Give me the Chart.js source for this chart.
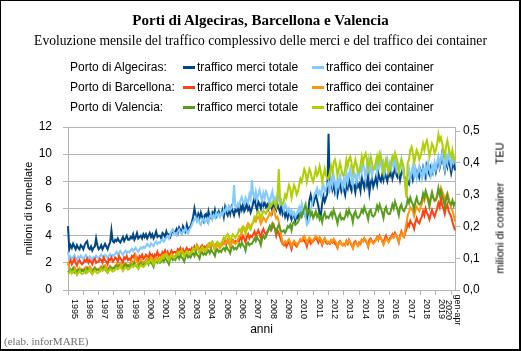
<!DOCTYPE html>
<html><head><meta charset="utf-8">
<script src="https://cdn.jsdelivr.net/npm/chart.js@4.4.1/dist/chart.umd.min.js"></script>
<style>
html,body{margin:0;padding:0;background:#fff;}
#wrap{position:relative;width:521px;height:351px;overflow:hidden;background:#fff;}
#cw{position:absolute;left:0;top:0;width:521px;height:351px;}
#frame{position:absolute;left:0;top:0;width:521px;height:351px;box-sizing:border-box;border-style:solid;border-color:#000;border-width:1px 2px 2px 1px;pointer-events:none;}
.t{position:absolute;white-space:pre;color:#000;}
#title{left:0;width:521px;text-align:center;top:10px;font:bold 15px/20px "Liberation Serif","Times New Roman",serif;}
#sub{left:0;width:521px;text-align:center;top:31px;font:13.6px/20px "Liberation Serif","Times New Roman",serif;}
.leg{font:12px/20px "Liberation Sans",Arial,sans-serif;}
.sw{position:absolute;width:12px;height:3px;}
#rtitle{left:500px;top:208px;font:11px/13px "Liberation Sans",Arial,sans-serif;transform:translate(-50%,-50%) rotate(-90deg);}
#note{left:4px;top:335px;font:11px/13px "Liberation Serif","Times New Roman",serif;color:#707070;}
</style>
</head>
<body>
<div id="wrap">
  <div id="cw"><canvas id="c"></canvas></div>
  <div class="t" id="title"></div>
  <div class="t" id="sub"></div>
  <div id="legend"></div>
  <div class="t" id="rtitle"></div>
  <div class="t" id="note"></div>
  <div id="frame"></div>
</div>
<script>
// ---------- texts ----------
const titleText = 'Porti di Algeciras, Barcellona e Valencia';
const subtitleText = 'Evoluzione mensile del traffico complessivo delle merci e del traffico dei container';
const portNames = ['Porto di Algeciras:', 'Porto di Barcellona:', 'Porto di Valencia:'];
const seriesKinds = ['traffico merci totale', 'traffico dei container'];
const leftAxisTitle = 'milioni di tonnellate';
const rightAxisTitle = 'milioni di container      TEU';
const xAxisTitle = 'anni';
const noteText = '(elab. inforMARE)';
const yearTicks = ['1995','1996','1997','1998','1999','2000','2001','2002','2003','2004','2005','2006','2007',
  '2008','2009','2010','2011','2012','2013','2014','2015','2016','2017','2018','2019'];
const lastTick = ['2020','gen-apr'];
const monthNames = ['gen','feb','mar','apr','mag','giu','lug','ago','set','ott','nov','dic'];

// ---------- categories (monthly, gen 1995 - apr 2020) ----------
const categories = [];
for (let y = 1995; y <= 2020; y++) {
  for (let m = 0; m < 12; m++) {
    if (y === 2020 && m > 3) break;
    categories.push(monthNames[m] + ' ' + y);
  }
}

// ---------- series values ----------
// Algeciras: traffico merci totale (milioni di tonnellate)
const algeciraMerci = [
4.7,3.0,3.3,3.1,3.4,3.2,3.0,3.3,3.1,3.0,3.3,3.2,
3.0,3.3,3.5,3.6,3.1,3.0,3.2,2.9,3.1,3.2,3.8,3.3,
3.0,3.1,3.3,3.0,3.2,3.4,3.2,3.0,3.3,3.5,4.4,3.6,
3.5,3.7,3.6,3.8,3.6,3.5,3.7,3.9,3.6,3.8,4.0,3.7,
3.7,3.9,3.8,4.1,3.7,3.9,4.2,3.8,3.9,4.0,3.8,4.1,
3.9,4.1,3.8,4.0,4.2,3.9,4.1,3.8,4.0,4.3,3.9,4.0,
4.0,3.8,4.2,4.1,3.9,4.3,4.0,4.1,3.9,4.2,4.4,4.2,
4.3,4.5,4.2,4.6,4.4,4.2,4.7,4.5,4.3,4.8,4.4,4.6,
4.7,5.0,5.4,6.0,5.5,5.2,5.6,5.3,5.7,5.4,5.1,5.5,
5.6,5.2,5.8,5.4,5.3,5.7,5.5,5.9,5.4,5.6,5.8,5.5,
5.6,5.9,5.4,6.1,5.7,5.5,6.0,5.6,6.1,5.8,5.5,5.9,
5.8,6.0,5.6,6.2,5.9,6.3,5.8,6.0,6.4,5.9,6.1,5.7,
6.0,6.4,6.8,6.2,5.9,6.5,6.3,6.0,6.6,6.2,6.4,6.1,
6.3,6.0,6.5,6.2,5.8,6.4,6.1,5.9,6.3,6.0,5.7,6.2,
5.6,5.9,5.4,5.7,5.3,5.8,5.5,5.2,5.6,5.4,5.1,5.5,
5.3,5.6,5.9,5.5,5.8,5.6,5.4,5.2,5.7,6.6,7.0,6.5,
6.3,6.7,7.0,6.6,6.2,5.6,5.5,6.4,6.9,6.5,6.8,7.1,
11.5,7.6,8.0,7.4,7.8,7.2,7.6,7.0,7.5,7.9,7.3,7.7,
7.4,7.0,7.8,7.5,8.2,7.6,7.3,7.9,7.7,7.2,8.0,7.6,
7.8,7.3,8.3,7.9,7.5,8.1,7.7,8.4,7.2,7.9,8.2,7.6,
7.9,8.3,7.8,8.6,8.2,8.0,8.5,8.1,8.7,8.3,8.0,8.6,
8.4,8.8,8.2,8.6,9.0,8.5,8.3,8.7,8.1,8.6,8.9,8.4,
8.2,7.6,8.0,7.8,8.3,8.6,8.1,8.5,8.9,8.4,8.7,8.3,
8.8,8.4,9.0,8.6,8.3,9.1,8.7,8.5,9.0,8.6,8.9,9.2,
8.7,9.2,9.6,9.0,9.4,10.1,9.3,8.8,9.5,9.1,9.8,9.2,
8.6,9.1,9.4,8.8];

// Algeciras: traffico dei container (milioni di TEU)
const algecirasTeu = [
0.12,0.10,0.105,0.098,0.103,0.11,0.10,0.095,0.105,0.10,0.108,0.102,
0.098,0.104,0.11,0.10,0.097,0.106,0.102,0.095,0.104,0.10,0.108,0.103,
0.10,0.106,0.112,0.104,0.101,0.11,0.107,0.10,0.108,0.113,0.105,0.11,
0.108,0.114,0.12,0.112,0.117,0.123,0.115,0.11,0.118,0.124,0.116,0.121,
0.118,0.124,0.13,0.122,0.127,0.133,0.125,0.12,0.128,0.134,0.13,0.136,
0.132,0.138,0.145,0.14,0.136,0.147,0.142,0.138,0.148,0.153,0.145,0.15,
0.148,0.155,0.16,0.152,0.158,0.165,0.17,0.162,0.175,0.185,0.19,0.18,
0.178,0.172,0.185,0.19,0.18,0.176,0.188,0.182,0.195,0.186,0.178,0.19,
0.195,0.205,0.215,0.22,0.228,0.215,0.225,0.21,0.205,0.218,0.225,0.212,
0.218,0.225,0.212,0.23,0.238,0.222,0.235,0.228,0.242,0.232,0.24,0.23,
0.242,0.236,0.252,0.246,0.26,0.25,0.262,0.252,0.258,0.268,0.33,0.262,
0.26,0.272,0.264,0.282,0.292,0.278,0.27,0.29,0.28,0.272,0.30,0.286,
0.346,0.30,0.29,0.31,0.285,0.30,0.315,0.295,0.28,0.305,0.29,0.31,
0.30,0.285,0.27,0.295,0.31,0.28,0.29,0.275,0.30,0.285,0.27,0.28,
0.265,0.25,0.27,0.26,0.245,0.255,0.24,0.25,0.235,0.245,0.23,0.24,
0.25,0.26,0.24,0.27,0.25,0.24,0.23,0.205,0.21,0.22,0.25,0.27,
0.29,0.30,0.31,0.32,0.30,0.31,0.295,0.32,0.33,0.31,0.32,0.33,
0.34,0.32,0.35,0.33,0.36,0.34,0.31,0.35,0.33,0.36,0.34,0.32,
0.35,0.33,0.37,0.34,0.36,0.38,0.35,0.33,0.37,0.36,0.34,0.38,
0.36,0.39,0.37,0.40,0.38,0.35,0.39,0.41,0.37,0.39,0.36,0.38,
0.38,0.40,0.37,0.41,0.39,0.42,0.38,0.40,0.37,0.39,0.41,0.38,
0.40,0.38,0.41,0.39,0.42,0.38,0.40,0.37,0.39,0.41,0.38,0.36,
0.34,0.30,0.36,0.38,0.35,0.37,0.39,0.36,0.38,0.35,0.37,0.39,
0.37,0.35,0.38,0.36,0.39,0.37,0.40,0.38,0.36,0.39,0.37,0.40,
0.38,0.40,0.42,0.39,0.41,0.43,0.40,0.38,0.42,0.40,0.43,0.41,
0.39,0.42,0.40,0.41];

// Barcellona: traffico merci totale
const barcellonaMerci = [
1.8,2.0,2.2,1.9,2.1,2.3,2.0,1.8,2.1,2.2,2.0,1.9,
2.0,2.2,2.1,2.3,2.0,2.2,2.1,1.9,2.2,2.3,2.0,2.1,
2.1,2.3,2.2,2.0,2.4,2.2,2.1,1.9,2.3,2.2,2.4,2.1,
2.2,2.4,2.3,2.1,2.5,2.3,2.2,2.0,2.4,2.3,2.5,2.2,
2.3,2.2,2.5,2.4,2.6,2.3,2.4,2.1,2.5,2.4,2.6,2.3,
2.4,2.6,2.5,2.3,2.7,2.5,2.6,2.3,2.6,2.5,2.8,2.5,
2.6,2.5,2.8,2.7,2.9,2.6,2.8,2.5,2.7,2.9,2.7,2.8,
2.8,2.7,3.0,2.9,3.1,2.8,3.0,2.7,2.9,3.1,2.9,3.0,
2.9,3.1,3.0,3.2,2.9,3.3,3.1,2.8,3.2,3.3,3.1,3.2,
3.1,3.3,3.2,3.4,3.2,3.5,3.3,3.0,3.4,3.5,3.3,3.4,
3.3,3.5,3.4,3.6,3.4,3.7,3.5,3.2,3.6,3.7,3.5,3.6,
3.5,3.7,3.6,3.9,3.7,4.0,3.8,3.5,3.9,4.1,3.8,4.0,
3.9,4.1,4.3,4.0,4.2,4.4,4.1,3.8,4.3,4.5,4.2,4.1,
4.3,4.5,4.7,4.4,4.6,4.8,4.5,4.0,4.4,4.2,3.9,3.6,
3.4,3.3,3.5,3.2,3.4,3.6,3.3,3.0,3.4,3.5,3.3,3.2,
3.4,3.5,3.7,3.6,3.8,3.6,3.5,3.2,3.6,3.7,3.4,3.5,
3.6,3.7,3.9,3.7,3.5,3.8,3.6,3.3,3.6,3.8,3.5,3.4,
3.5,3.4,3.6,3.5,3.7,3.4,3.3,3.1,3.5,3.6,3.4,3.3,
3.4,3.3,3.6,3.4,3.7,3.5,3.3,3.1,3.5,3.6,3.4,3.3,
3.5,3.4,3.7,3.6,3.8,3.6,3.5,3.2,3.7,3.8,3.6,3.5,
3.6,3.7,3.9,3.7,4.0,3.8,3.6,3.4,3.8,4.0,3.7,3.6,
3.8,3.9,4.1,3.9,4.2,4.0,3.8,3.5,4.0,4.3,4.0,3.9,
4.2,4.5,4.9,4.7,5.1,4.9,4.8,4.5,5.0,5.3,5.0,4.9,
5.2,5.4,5.8,5.5,6.0,5.7,5.5,5.2,5.6,5.9,5.6,5.4,
5.7,6.0,6.4,6.1,6.8,6.2,6.0,5.6,6.1,6.3,5.8,5.6,
5.4,5.0,4.7,4.4];

// Barcellona: traffico dei container
const barcellonaTeu = [
0.088,0.07,0.065,0.062,0.068,0.072,0.066,0.058,0.064,0.07,0.066,0.061,
0.063,0.068,0.072,0.065,0.07,0.074,0.068,0.06,0.066,0.072,0.068,0.064,
0.066,0.07,0.075,0.07,0.073,0.078,0.072,0.064,0.07,0.076,0.072,0.068,
0.072,0.076,0.082,0.078,0.08,0.085,0.079,0.07,0.078,0.084,0.08,0.076,
0.08,0.085,0.092,0.088,0.09,0.108,0.09,0.08,0.088,0.095,0.09,0.086,
0.09,0.095,0.10,0.096,0.098,0.104,0.099,0.088,0.097,0.103,0.10,0.095,
0.10,0.104,0.11,0.106,0.112,0.116,0.108,0.098,0.106,0.113,0.108,0.104,
0.108,0.112,0.118,0.114,0.12,0.124,0.116,0.105,0.115,0.122,0.117,0.112,
0.118,0.122,0.128,0.125,0.13,0.135,0.127,0.115,0.126,0.133,0.128,0.122,
0.125,0.13,0.138,0.134,0.14,0.145,0.136,0.124,0.134,0.142,0.137,0.132,
0.138,0.142,0.15,0.145,0.152,0.158,0.148,0.135,0.146,0.155,0.15,0.145,
0.15,0.158,0.168,0.172,0.18,0.19,0.195,0.185,0.20,0.21,0.205,0.198,
0.205,0.212,0.22,0.215,0.225,0.23,0.222,0.208,0.218,0.228,0.222,0.215,
0.225,0.232,0.242,0.235,0.248,0.255,0.24,0.225,0.23,0.215,0.195,0.17,
0.15,0.145,0.152,0.148,0.155,0.16,0.15,0.138,0.148,0.155,0.15,0.142,
0.148,0.152,0.16,0.156,0.165,0.17,0.16,0.148,0.158,0.165,0.16,0.152,
0.158,0.162,0.17,0.165,0.158,0.166,0.16,0.145,0.155,0.162,0.156,0.148,
0.152,0.148,0.158,0.152,0.16,0.155,0.148,0.135,0.145,0.152,0.146,0.14,
0.145,0.14,0.152,0.148,0.156,0.15,0.144,0.132,0.142,0.15,0.145,0.138,
0.145,0.15,0.158,0.153,0.162,0.158,0.15,0.138,0.148,0.158,0.152,0.146,
0.15,0.156,0.165,0.16,0.168,0.163,0.155,0.142,0.152,0.162,0.158,0.15,
0.158,0.162,0.17,0.166,0.175,0.17,0.165,0.152,0.165,0.178,0.172,0.168,
0.19,0.21,0.235,0.245,0.26,0.255,0.248,0.232,0.25,0.262,0.255,0.248,
0.26,0.27,0.29,0.28,0.30,0.292,0.28,0.262,0.285,0.30,0.29,0.28,
0.285,0.298,0.315,0.305,0.322,0.31,0.30,0.28,0.295,0.305,0.29,0.275,
0.26,0.25,0.235,0.215];

// Valencia: traffico merci totale
const valenciaMerci = [
1.4,1.3,1.5,1.4,1.6,1.3,1.4,1.2,1.5,1.4,1.3,1.5,
1.4,1.5,1.3,1.6,1.4,1.5,1.3,1.2,1.5,1.6,1.4,1.5,
1.5,1.4,1.6,1.5,1.7,1.5,1.4,1.3,1.6,1.7,1.5,1.6,
1.6,1.7,1.8,1.6,1.8,1.7,1.6,1.5,1.8,1.9,1.7,1.8,
1.7,1.8,1.9,1.8,2.0,1.8,1.7,1.6,1.9,2.0,1.8,1.9,
1.9,2.0,2.1,1.9,2.2,2.0,1.9,1.7,2.1,2.2,2.0,2.1,
2.0,2.1,2.3,2.1,2.4,2.2,2.1,1.9,2.3,2.4,2.2,2.3,
2.2,2.4,2.5,2.3,2.6,2.4,2.3,2.1,2.5,2.6,2.4,2.5,
2.4,2.6,2.7,2.5,2.8,2.6,2.5,2.3,2.7,2.8,2.6,2.7,
2.6,2.8,2.9,2.7,3.0,2.8,2.7,2.5,2.9,3.0,2.8,2.9,
2.8,3.0,3.1,2.9,3.2,3.0,2.9,2.7,3.1,3.2,3.0,3.1,
3.0,3.2,3.4,3.2,3.5,3.3,3.2,2.9,3.4,3.5,3.3,3.4,
3.4,3.6,3.8,3.6,3.9,3.7,3.6,3.3,3.8,4.0,3.8,3.9,
4.2,4.4,4.7,4.5,4.9,4.7,4.5,4.2,4.6,4.8,4.5,4.3,
4.3,4.4,4.2,4.4,4.7,4.6,4.8,4.4,4.9,5.0,4.8,4.9,
5.0,5.2,5.6,5.4,5.7,6.0,6.3,5.6,5.8,5.9,5.5,5.7,
5.3,5.5,5.8,5.4,5.6,5.2,5.4,5.0,5.5,5.7,5.3,5.4,
5.3,5.5,5.7,5.4,5.9,5.6,5.3,4.9,5.4,5.6,5.2,5.3,
5.2,5.4,5.8,5.5,5.9,5.6,5.5,5.0,5.6,5.8,5.4,5.3,
5.4,5.6,5.9,5.7,6.1,5.8,5.6,5.2,5.8,5.9,5.5,5.4,
5.5,5.8,6.2,5.9,6.3,6.0,5.7,5.3,5.9,6.1,5.7,5.6,
5.6,5.9,6.3,6.0,6.5,6.2,5.9,5.5,6.1,6.3,5.9,5.8,
6.0,6.2,6.7,6.4,6.8,6.5,6.3,5.9,6.5,6.8,6.4,6.3,
6.4,6.6,7.1,6.8,7.3,7.0,6.7,6.2,6.8,7.2,6.8,6.6,
6.6,6.9,7.5,7.0,7.3,6.9,6.6,6.1,6.7,7.0,6.5,6.4,
6.3,6.6,6.2,6.5];

// Valencia: traffico dei container
const valenciaTeu = [
0.05,0.055,0.06,0.052,0.058,0.062,0.056,0.048,0.054,0.06,0.055,0.05,
0.052,0.056,0.062,0.055,0.06,0.064,0.058,0.05,0.056,0.062,0.057,0.053,
0.056,0.06,0.066,0.06,0.064,0.068,0.062,0.054,0.06,0.066,0.062,0.058,
0.06,0.064,0.07,0.066,0.07,0.074,0.068,0.06,0.066,0.072,0.068,0.064,
0.066,0.07,0.077,0.072,0.078,0.08,0.075,0.066,0.072,0.08,0.076,0.072,
0.076,0.082,0.09,0.085,0.092,0.096,0.09,0.08,0.088,0.096,0.092,0.088,
0.09,0.096,0.104,0.10,0.108,0.112,0.105,0.094,0.102,0.11,0.106,0.10,
0.104,0.11,0.118,0.112,0.12,0.125,0.118,0.105,0.115,0.122,0.118,0.112,
0.115,0.12,0.13,0.125,0.133,0.138,0.13,0.118,0.128,0.136,0.132,0.126,
0.13,0.136,0.145,0.14,0.148,0.152,0.145,0.132,0.142,0.15,0.146,0.14,
0.148,0.155,0.165,0.16,0.17,0.176,0.168,0.152,0.165,0.175,0.17,0.164,
0.17,0.178,0.19,0.185,0.195,0.20,0.192,0.176,0.19,0.20,0.196,0.19,
0.205,0.215,0.23,0.225,0.24,0.248,0.24,0.225,0.238,0.25,0.245,0.24,
0.25,0.258,0.27,0.265,0.275,0.28,0.27,0.26,0.29,0.38,0.29,0.27,
0.27,0.28,0.30,0.29,0.31,0.33,0.32,0.29,0.31,0.33,0.32,0.30,
0.31,0.33,0.35,0.34,0.36,0.38,0.37,0.34,0.36,0.38,0.37,0.35,
0.34,0.36,0.38,0.36,0.37,0.39,0.37,0.34,0.36,0.38,0.36,0.35,
0.35,0.37,0.39,0.37,0.40,0.41,0.39,0.36,0.38,0.40,0.38,0.36,
0.36,0.38,0.41,0.39,0.41,0.42,0.40,0.37,0.39,0.41,0.39,0.37,
0.37,0.39,0.42,0.40,0.42,0.43,0.41,0.38,0.40,0.42,0.40,0.38,
0.38,0.40,0.42,0.40,0.43,0.42,0.40,0.37,0.39,0.41,0.39,0.37,
0.38,0.40,0.42,0.41,0.43,0.42,0.40,0.37,0.39,0.41,0.40,0.38,
0.33,0.29,0.40,0.41,0.44,0.45,0.43,0.40,0.42,0.44,0.43,0.41,
0.42,0.44,0.46,0.44,0.46,0.47,0.45,0.42,0.44,0.46,0.45,0.43,
0.44,0.46,0.49,0.47,0.48,0.46,0.44,0.42,0.45,0.47,0.45,0.43,
0.42,0.44,0.41,0.42];

const seriesColors = ['#004586','#83caff','#ff420e','#ff950e','#579d1c','#aecf00'];
const seriesData = [algeciraMerci, algecirasTeu, barcellonaMerci, barcellonaTeu, valenciaMerci, valenciaTeu];
const seriesAxis = ['y','y1','y','y1','y','y1'];

// ---------- HTML texts ----------
document.getElementById('title').textContent = titleText;
document.getElementById('sub').textContent = subtitleText;
document.getElementById('rtitle').textContent = rightAxisTitle;
document.getElementById('note').textContent = noteText;
const legendEl = document.getElementById('legend');
portNames.forEach((p, r) => {
  const top = 57 + r * 20;
  const lab = document.createElement('div');
  lab.className = 't leg'; lab.style.left = '70px'; lab.style.top = top + 'px'; lab.textContent = p;
  legendEl.appendChild(lab);
  seriesKinds.forEach((k, c) => {
    const sx = c === 0 ? 183 : 312;
    const sw = document.createElement('div');
    sw.className = 'sw'; sw.style.left = sx + 'px'; sw.style.top = (top + 9) + 'px';
    sw.style.background = seriesColors[r * 2 + c];
    legendEl.appendChild(sw);
    const tx = document.createElement('div');
    tx.className = 't leg'; tx.style.left = (sx + 14) + 'px'; tx.style.top = top + 'px'; tx.textContent = k;
    legendEl.appendChild(tx);
  });
});

// ---------- x labels plugin (rotated, reading downward) ----------
const xLabelPlugin = {
  id: 'xLabels',
  afterDraw(chart) {
    const xs = chart.scales.x;
    const ctx = chart.ctx;
    ctx.save();
    ctx.fillStyle = '#000';
    ctx.font = '9px "Liberation Sans", Arial, sans-serif';
    ctx.textBaseline = 'middle';
    yearTicks.forEach((lab, k) => {
      const x = xs.getPixelForValue(12 * k + 4.7);
      ctx.save();
      ctx.translate(x, xs.top + 9);
      ctx.rotate(Math.PI / 2);
      ctx.textAlign = 'left';
      ctx.fillText(lab, 0, 0);
      ctx.restore();
    });
    const xc = xs.getPixelForValue(301.5);
    [[lastTick[0], -4.5], [lastTick[1], 4.5]].forEach(([lab, dx]) => {
      ctx.save();
      ctx.translate(xc + dx, xs.top + 20);
      ctx.rotate(Math.PI / 2);
      ctx.textAlign = 'center';
      ctx.fillText(lab, 0, 0);
      ctx.restore();
    });
    ctx.restore();
  }
};

const gridGray = '#b3b3b3';
const datasets = seriesData.map((d, i) => ({
  label: portNames[Math.floor(i / 2)] + ' ' + seriesKinds[i % 2],
  data: d,
  yAxisID: seriesAxis[i],
  borderColor: seriesColors[i],
  backgroundColor: seriesColors[i],
  borderWidth: 2,
  pointRadius: 0,
  tension: 0,
  fill: false,
  order: 6 - i
}));

new Chart(document.getElementById('c'), {
  type: 'line',
  data: { labels: categories, datasets },
  options: {
    responsive: true,
    maintainAspectRatio: false,
    animation: false,
    devicePixelRatio: 1,
    layout: { padding: { top: 127, left: 0, right: 0, bottom: 0 } },
    plugins: { legend: { display: false }, tooltip: { enabled: false }, title: { display: false } },
    scales: {
      x: {
        type: 'category',
        offset: false,
        grid: {
          drawOnChartArea: false, drawTicks: true, tickLength: 5,
          color: (c) => (c.index % 12 === 0 ? gridGray : 'rgba(0,0,0,0)'),
          tickColor: (c) => (c.index % 12 === 0 ? gridGray : 'rgba(0,0,0,0)')
        },
        border: { color: gridGray },
        ticks: { autoSkip: false, maxRotation: 0, minRotation: 0, callback: () => '', font: { size: 1 } },
        title: { display: true, text: xAxisTitle, color: '#000',
          font: { family: '"Liberation Sans", Arial, sans-serif', size: 12 }, padding: { top: 0, bottom: 14 } },
        afterFit: (s) => { s.height = 61; }
      },
      y: {
        position: 'left',
        min: 0, max: 12,
        ticks: { stepSize: 2, color: '#000', font: { family: '"Liberation Sans", Arial, sans-serif', size: 12 }, padding: 11 },
        grid: { color: gridGray, tickLength: 5 },
        border: { color: gridGray },
        title: { display: true, text: leftAxisTitle, color: '#000',
          font: { family: '"Liberation Sans", Arial, sans-serif', size: 11 }, padding: { top: 22, bottom: 0 } },
        afterFit: (s) => { s.width = 68; }
      },
      y1: {
        position: 'right',
        min: 0, max: 0.5126,
        ticks: { stepSize: 0.1, includeBounds: false, color: '#000',
          font: { family: '"Liberation Sans", Arial, sans-serif', size: 12 }, padding: 3,
          callback: (v) => Number(v).toFixed(1).replace('.', ',') },
        grid: { drawOnChartArea: false, color: gridGray, tickLength: 5 },
        border: { color: gridGray },
        afterFit: (s) => { s.width = 66; }
      }
    }
  },
  plugins: [xLabelPlugin]
});
</script>
</body></html>
